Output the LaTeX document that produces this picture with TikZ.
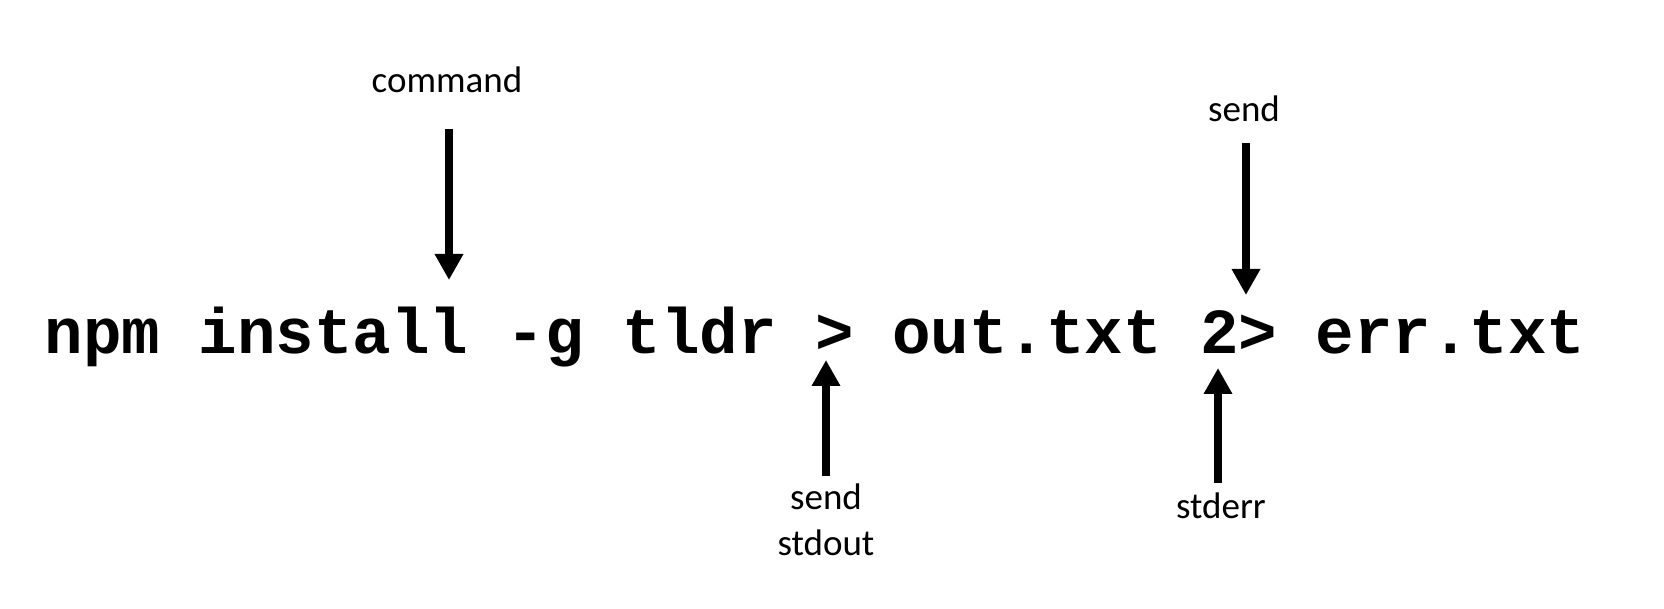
\documentclass[tikz,border=0pt]{standalone}
\usepackage{fontspec}
\setmainfont{Carlito}
\newfontfamily\cmdfont{Liberation Mono}
\usetikzlibrary{arrows.meta,positioning,calc}

\begin{document}
\begin{tikzpicture}[
        x=1pt, y=1pt,
        commandText/.style={
            font=\cmdfont\bfseries\fontsize{64.2}{70}\selectfont,
            inner sep=0pt,
            anchor=base west
        },
        labelText/.style={
            font=\fontsize{37}{46}\selectfont,
            inner sep=0pt,
            align=center,
            anchor=base
        },
        pointer/.style={
            -{Triangle[length=26pt,width=27pt]},
            line width=7.5pt,
            draw=black
        }
    ]

        \useasboundingbox (0,0) rectangle (1664,608);

        % The command line
        \node[commandText] (command) at (44.5,254)
            {npm install -g tldr > out.txt 2> err.txt};

        % Arrow tips
        \coordinate (cmdTip) at (449,328);
        \coordinate (sendErrTip) at (1246,313);
        \coordinate (stdoutTip) at (826,248);
        \coordinate (stderrTip) at (1218,240);

        % Labels
        \node[labelText] (lblCommand) at (447,515) {command};
        \node[labelText] (lblSendErr) at (1244,486) {send};
        \node[labelText] (lblSendOut) at (826,53) {send\\stdout};
        \node[labelText] (lblStderr) at (1221,90) {stderr};

        % Arrows
        \draw[pointer, shorten <=36pt]
            (lblCommand.south -| cmdTip) -- (cmdTip);
        \draw[pointer, shorten <=21pt]
            (lblSendErr.south -| sendErrTip) -- (sendErrTip);
        \draw[pointer, shorten <=7pt]
            (lblSendOut.north -| stdoutTip) -- (stdoutTip);
        \draw[pointer, shorten <=9pt]
            (lblStderr.north -| stderrTip) -- (stderrTip);

    \end{tikzpicture}
\end{document}
